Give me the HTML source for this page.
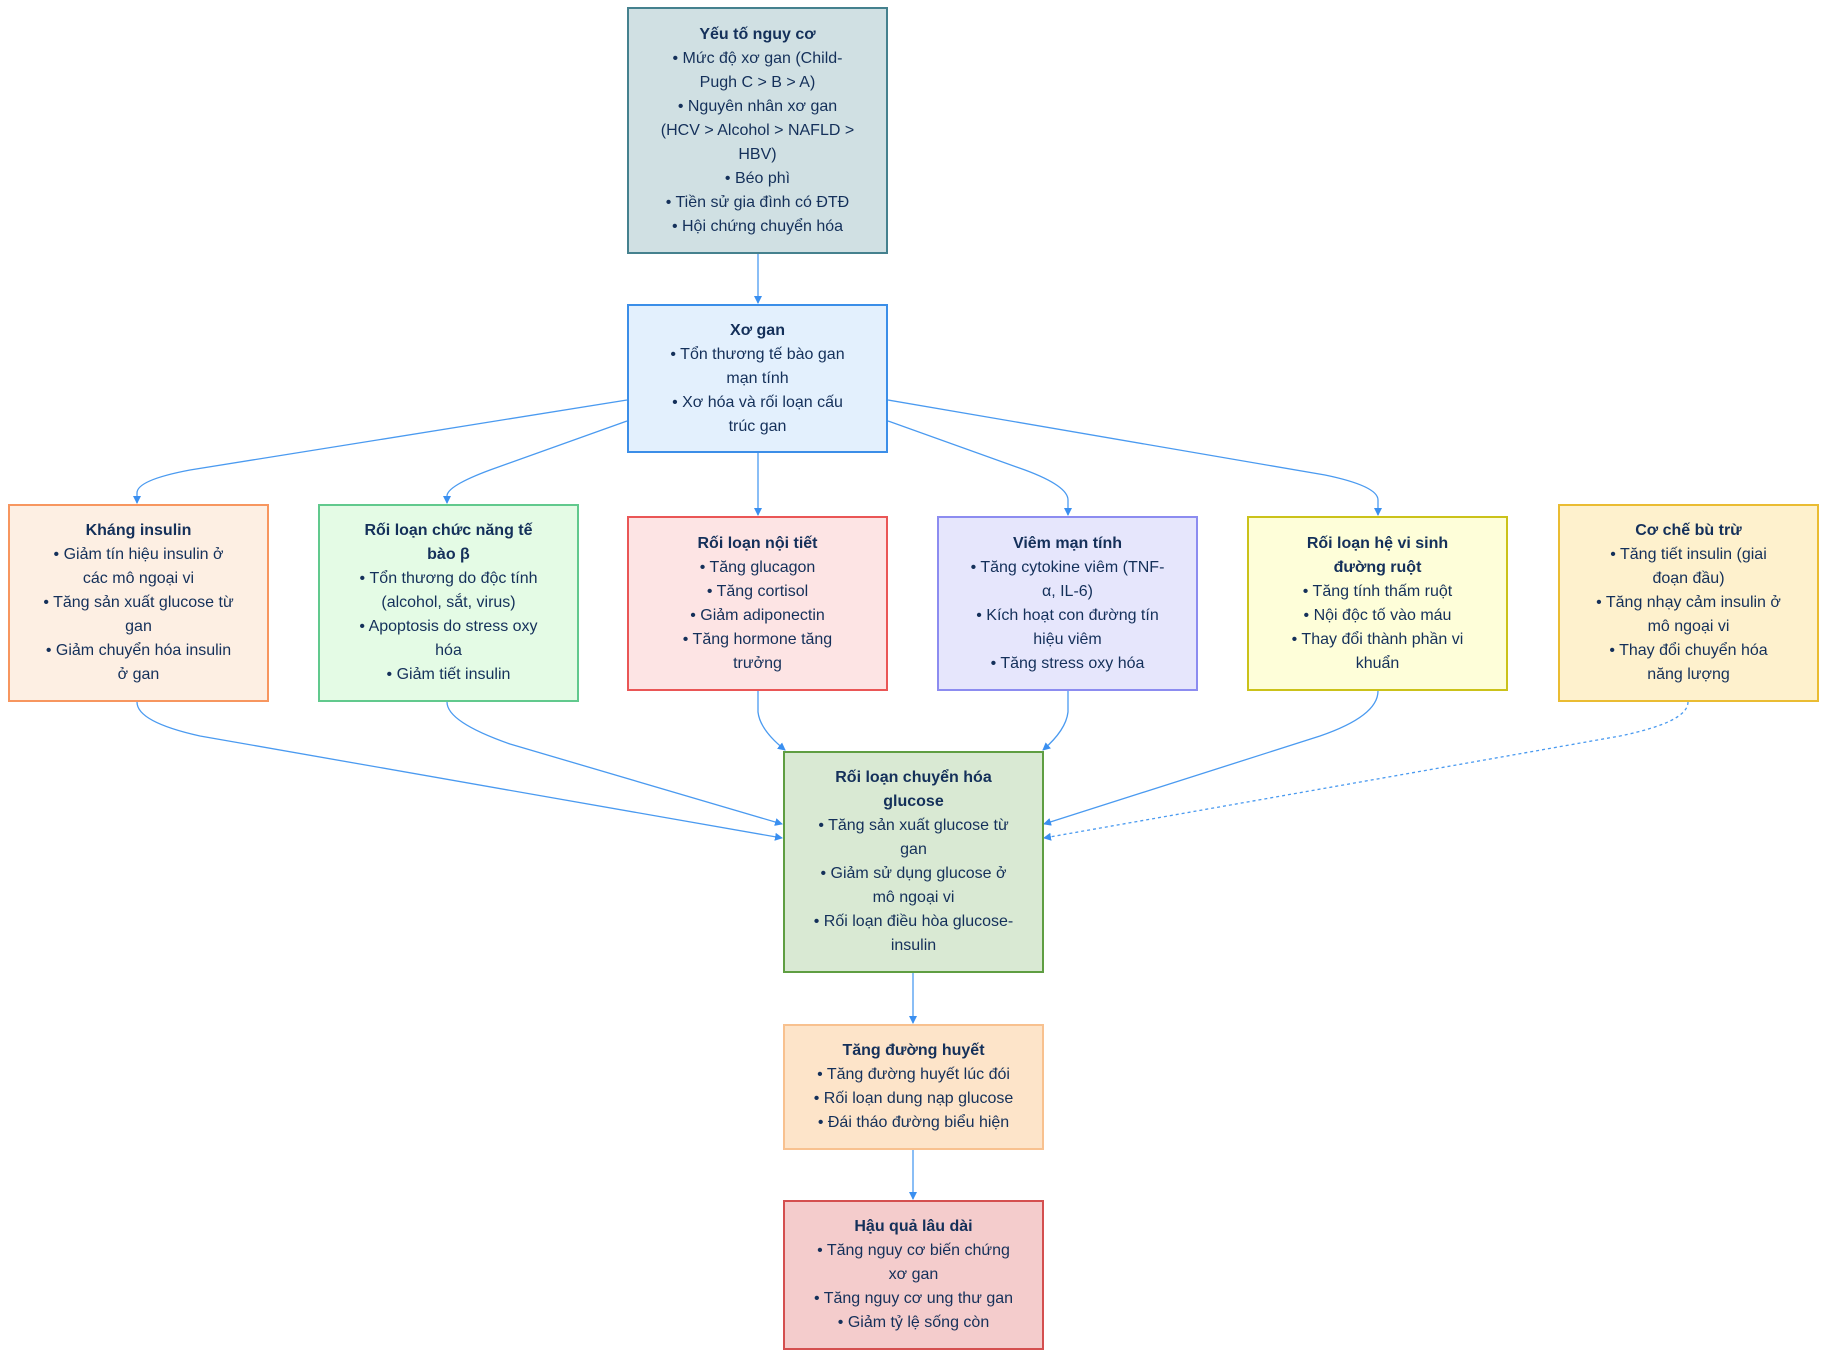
<!DOCTYPE html>
<html><head><meta charset="utf-8"><style>
body{margin:0;width:1826px;height:1358px;background:#fff;position:relative;overflow:hidden;font-family:"Liberation Sans",Arial,sans-serif;}
.b{position:absolute;box-sizing:border-box;border:2px solid;display:flex;align-items:center;justify-content:center;text-align:center;color:#14305a;font-size:16px;line-height:24px;white-space:nowrap;width:261px;}
.b b{font-weight:bold;}
svg{position:absolute;left:0;top:0;}
</style></head><body>
<svg width="1826" height="1358" viewBox="0 0 1826 1358">
<defs><marker id="a" markerWidth="8" markerHeight="8" refX="7" refY="4" orient="auto" markerUnits="userSpaceOnUse"><path d="M0,0 L8,4 L0,8 z" fill="#3a8ff0"/></marker></defs>
<g fill="none" stroke="#4a9af0" stroke-width="1.3" marker-end="url(#a)">
<path d="M758,254 L758,303"/>
<path d="M627,400 L190,470 Q137,480 137,493 L137,503"/>
<path d="M627,421 L490,470 Q447,486 447,496 L447,503"/>
<path d="M758,453 L758,515"/>
<path d="M888,421 L1025,470 Q1068,486 1068,500 L1068,515"/>
<path d="M888,400 L1325,475 Q1378,486 1378,500 L1378,515"/>
<path d="M137,702 Q137,722 200,736 L782,838"/>
<path d="M447,702 Q447,722 510,744 L782,824"/>
<path d="M758,691 L758,712 Q760,730 785,750"/>
<path d="M1068,691 L1068,712 Q1066,730 1043,750"/>
<path d="M1378,691 Q1378,716 1320,736 L1044,824"/>
<path d="M1688,702 Q1688,722 1620,736 L1044,838" stroke-dasharray="3,3"/>
<path d="M913,973 L913,1023"/>
<path d="M913,1150 L913,1199"/>
</g></svg>
<div class="b" style="left:627px;top:7px;height:247px;background:#d0e0e3;border-color:#45818e"><div><b>Yếu tố nguy cơ</b><br>• Mức độ xơ gan (Child-<br>Pugh C &gt; B &gt; A)<br>• Nguyên nhân xơ gan<br>(HCV &gt; Alcohol &gt; NAFLD &gt;<br>HBV)<br>• Béo phì<br>• Tiền sử gia đình có ĐTĐ<br>• Hội chứng chuyển hóa</div></div>
<div class="b" style="left:627px;top:304px;height:149px;background:#e3f0fd;border-color:#3b8ee8"><div><b>Xơ gan</b><br>• Tổn thương tế bào gan<br>mạn tính<br>• Xơ hóa và rối loạn cấu<br>trúc gan</div></div>
<div class="b" style="left:8px;top:504px;height:198px;background:#fdefe3;border-color:#f7965f"><div><b>Kháng insulin</b><br>• Giảm tín hiệu insulin ở<br>các mô ngoại vi<br>• Tăng sản xuất glucose từ<br>gan<br>• Giảm chuyển hóa insulin<br>ở gan</div></div>
<div class="b" style="left:318px;top:504px;height:198px;background:#e4fbe5;border-color:#61c98d"><div><b>Rối loạn chức năng tế<br>bào β</b><br>• Tổn thương do độc tính<br>(alcohol, sắt, virus)<br>• Apoptosis do stress oxy<br>hóa<br>• Giảm tiết insulin</div></div>
<div class="b" style="left:627px;top:516px;height:175px;background:#fde4e4;border-color:#ea5656"><div><b>Rối loạn nội tiết</b><br>• Tăng glucagon<br>• Tăng cortisol<br>• Giảm adiponectin<br>• Tăng hormone tăng<br>trưởng</div></div>
<div class="b" style="left:937px;top:516px;height:175px;background:#e6e6fc;border-color:#8c8cf0"><div><b>Viêm mạn tính</b><br>• Tăng cytokine viêm (TNF-<br>α, IL-6)<br>• Kích hoạt con đường tín<br>hiệu viêm<br>• Tăng stress oxy hóa</div></div>
<div class="b" style="left:1247px;top:516px;height:175px;background:#fefed9;border-color:#cbc21a"><div><b>Rối loạn hệ vi sinh<br>đường ruột</b><br>• Tăng tính thấm ruột<br>• Nội độc tố vào máu<br>• Thay đổi thành phần vi<br>khuẩn</div></div>
<div class="b" style="left:1558px;top:504px;height:198px;background:#fef1cd;border-color:#eabc32"><div><b>Cơ chế bù trừ</b><br>• Tăng tiết insulin (giai<br>đoạn đầu)<br>• Tăng nhạy cảm insulin ở<br>mô ngoại vi<br>• Thay đổi chuyển hóa<br>năng lượng</div></div>
<div class="b" style="left:783px;top:751px;height:222px;background:#d9e9d3;border-color:#5f9e42"><div><b>Rối loạn chuyển hóa<br>glucose</b><br>• Tăng sản xuất glucose từ<br>gan<br>• Giảm sử dụng glucose ở<br>mô ngoại vi<br>• Rối loạn điều hòa glucose-<br>insulin</div></div>
<div class="b" style="left:783px;top:1024px;height:126px;background:#fde4c9;border-color:#f8c18f"><div><b>Tăng đường huyết</b><br>• Tăng đường huyết lúc đói<br>• Rối loạn dung nạp glucose<br>• Đái tháo đường biểu hiện</div></div>
<div class="b" style="left:783px;top:1200px;height:150px;background:#f4cccc;border-color:#d44f4f"><div><b>Hậu quả lâu dài</b><br>• Tăng nguy cơ biến chứng<br>xơ gan<br>• Tăng nguy cơ ung thư gan<br>• Giảm tỷ lệ sống còn</div></div>
</body></html>
